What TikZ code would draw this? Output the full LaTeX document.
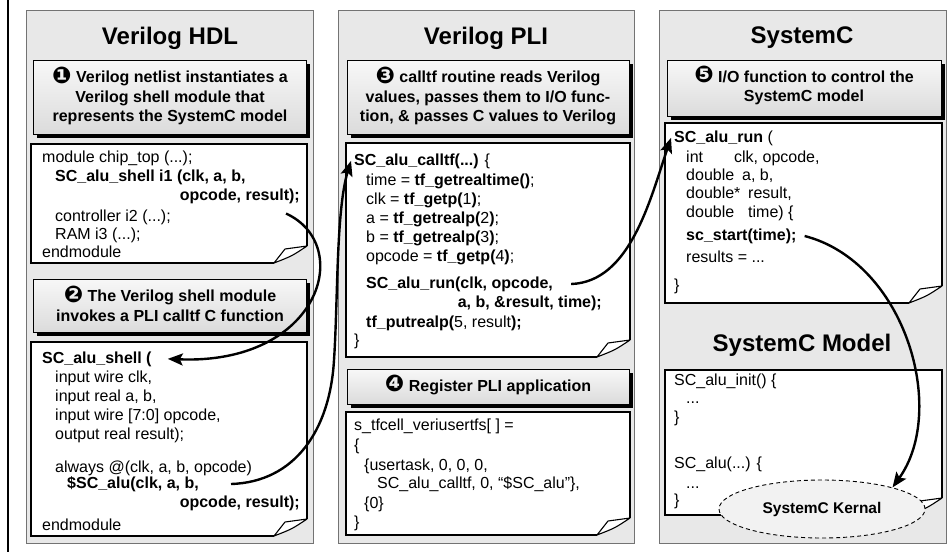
\documentclass[tikz,border=0pt]{standalone}
\usepackage{fontspec}
\setmainfont{Liberation Sans}
\newfontfamily\dingfont{DejaVu Sans}
\usetikzlibrary{arrows.meta,shapes.geometric}

\tikzset{
  panel/.style={draw=black!55, fill=black!9, line width=0.8pt},
  ttl/.style={font=\bfseries\fontsize{24}{28}\selectfont, inner sep=0},
  code/.style={font=\fontsize{16}{18.7}\selectfont, inner sep=0, anchor=base west},
  codeb/.style={code, font=\bfseries\fontsize{16}{18.7}\selectfont},
  codebe/.style={codeb, anchor=base east},
  call/.style={font=\bfseries\fontsize{16}{19.5}\selectfont, align=center, inner sep=0},
  boxline/.style={line width=1.1pt, draw=black},
  flow/.style={line width=2.4pt, -{Stealth[length=15pt,width=12pt,inset=3pt]}},
}
\newcommand\numdot[1]{\raisebox{-0.5pt}[0pt][0pt]{\dingfont\fontsize{23}{23}\selectfont #1}}

\newcommand\pagebox[4]{%
  \fill[white] (#1,#2) -- (#3,#2) -- (#3,#4-17) -- (#3-33,#4) -- (#1,#4) -- cycle;
  \draw[boxline] (#3-33,#4) -- (#1,#4) -- (#1,#2) -- (#3,#2) -- (#3,#4-17);
  \draw[boxline, fill=white, line join=round] (#3-33,#4) .. controls (#3-27,#4-7) .. (#3-22,#4-14) -- (#3,#4-17) .. controls (#3-15,#4-7) .. (#3-33,#4);
}
\newcommand\callbox[4]{%
  \fill[black] (#1+4,#2+4) rectangle (#3+4,#4+4);
  \shade[top color=white!97!black, bottom color=white!86!black, draw=black, line width=0.8pt] (#1,#2) rectangle (#3,#4);
}

\begin{document}
\begin{tikzpicture}[x=1pt,y=-1pt]
\useasboundingbox (0,0) rectangle (952,552);
\fill[white] (0,0) rectangle (952,552);
\draw[line width=1.5pt] (8,0) -- (8,552);

% panels
\draw[panel] (26,10) rectangle (313,543);
\draw[panel] (338,10) rectangle (634,543);
\draw[panel] (659,10) rectangle (946,543);

\node[ttl] (t1) at (170,38) {Verilog HDL};
\node[ttl] (t2) at (486,38) {Verilog PLI};
\node[ttl] (t3) at (802,38) {SystemC};
\node[ttl] (t4) at (802,345) {SystemC Model};

% callouts
\callbox{33}{60}{306}{134}
\callbox{33}{279}{306}{332}
\callbox{347}{60}{629}{134}
\callbox{347}{369}{629}{404}
\callbox{667}{60}{941}{116}

\node[call] (n1) at (170,98) {\numdot{❶} Verilog netlist instantiates a\\Verilog shell module that\\represents the SystemC model};
\node[call] (n2) at (170,306) {\numdot{❷} The Verilog shell module\\invokes a PLI calltf C function};
\node[call] (n3) at (488,98) {\numdot{❸} calltf routine reads Verilog\\values, passes them to I/O func-\\tion, \& passes C values to Verilog};
\node[call] (n4) at (488,387) {\numdot{❹} Register PLI application};
\node[call] (n5) at (804,88) {\numdot{❺} I/O function to control the\\SystemC model};

% code boxes
\pagebox{31}{144}{307}{263}
\pagebox{31}{342}{307}{536}
\pagebox{346}{143}{630}{357}
\pagebox{346}{412}{630}{535}
\pagebox{665}{123}{942}{303}
\pagebox{665}{370}{942}{515}

\node[ellipse, draw, dashed, dash pattern=on 4pt off 3pt, fill=black!5, line width=0.9pt,
      minimum width=206pt, minimum height=58pt, inner sep=0,
      font=\bfseries\fontsize{15.5}{18}\selectfont] (kernel) at (822,509) {SystemC Kernal};

% code 1
\node[code] (k1a) at (42,162) {module chip\_top (...);};
\node[codeb] (k1b) at (55,181) {SC\_alu\_shell i1 (clk, a, b,};
\node[codebe] (k1c) at (300,200) {opcode, result);};
\node[code] (k1d) at (55,221) {controller i2 (...);};
\node[code] (k1e) at (55,239) {RAM i3 (...);};
\node[code] (k1f) at (42,257) {endmodule};

% code 2
\node[codeb] (k2a) at (42,363) {SC\_alu\_shell (};
\node[code] (k2b) at (55,382) {input wire clk,};
\node[code] (k2c) at (55,401) {input real a, b,};
\node[code] (k2d) at (55,420) {input wire [7:0] opcode,};
\node[code] (k2e) at (55,439) {output real result);};
\node[code] (k2f) at (55,472) {always @(clk, a, b, opcode)};
\node[codeb] (k2g) at (67,488) {\$SC\_alu(clk, a, b,};
\node[codebe] (k2h) at (300,507) {opcode, result);};
\node[code] (k2i) at (42,530) {endmodule};

% code 3
\node[codeb] (k3a) at (354,165) {SC\_alu\_calltf(...) {\mdseries\{}};
\node[code] (k3b) at (366,185) {time = \textbf{tf\_getrealtime()};};
\node[code] (k3c) at (366,204) {clk = \textbf{tf\_getp(}1\textbf{)};};
\node[code] (k3d) at (366,223) {a = \textbf{tf\_getrealp(}2\textbf{)};};
\node[code] (k3e) at (366,242) {b = \textbf{tf\_getrealp(}3\textbf{)};};
\node[code] (k3f) at (366,261) {opcode = \textbf{tf\_getp(}4\textbf{)};};
\node[codeb] (k3g) at (366,288) {SC\_alu\_run(clk, opcode,};
\node[codebe] (k3h) at (602,307) {a, b, \&result, time);};
\node[code] (k3i) at (366,327) {\textbf{tf\_putrealp(}5, result\textbf{);}};
\node[code] (k3j) at (354,345) {\}};

% code 4
\node[code] (k4a) at (354,430) {s\_tfcell\_veriusertfs[ ] =};
\node[code] (k4b) at (354,450) {\{};
\node[code] (k4c) at (364,470) {\{usertask, 0, 0, 0,};
\node[code] (k4d) at (377,488) {SC\_alu\_calltf, 0, “\$SC\_alu”\},};
\node[code] (k4e) at (364,508) {\{0\}};
\node[code] (k4f) at (354,527) {\}};

% code 5
\node[code] (k5a) at (674,142) {\textbf{SC\_alu\_run} (};
\node[code] (k5b) at (686,162) {\makebox[48pt][l]{int}clk, opcode,};
\node[code] (k5c) at (686,180) {\makebox[56pt][l]{double}a, b,};
\node[code] (k5d) at (686,198) {\makebox[62pt][l]{double*}result,};
\node[code] (k5e) at (686,217) {\makebox[62pt][l]{double}time) \{};
\node[codeb] (k5f) at (686,240) {sc\_start(time);};
\node[code] (k5g) at (686,262) {results = ...};
\node[code] (k5h) at (674,290) {\}};

% code 6
\node[code] (k6a) at (674,385) {SC\_alu\_init() \{};
\node[code] (k6b) at (686,403) {...};
\node[code] (k6c) at (674,422) {\}};
\node[code] (k6d) at (674,468) {SC\_alu(...) \{};
\node[code] (k6e) at (686,488) {...};
\node[code] (k6f) at (674,505) {\}};

% arrows
\draw[flow] ([shift={(-14,10)}]k1c.south east) .. controls (355,245) and (320,365) .. ([xshift=16]k2a.east);
\draw[flow] ([shift={(32,-4)}]k2g.base east) .. controls (295,482) and (330,430) .. (334,360)
            .. controls (338,300) and (336,210) .. ([xshift=-3]k3a.west);
\draw[flow] ([shift={(18,-4)}]k3g.base east) .. controls (630,282) and (650,200) .. ([xshift=-3]k5a.west);
\draw[flow] ([shift={(8,-4)}]k5f.base east) .. controls (905,262) and (948,410) .. (kernel.17);
\end{tikzpicture}
\end{document}
